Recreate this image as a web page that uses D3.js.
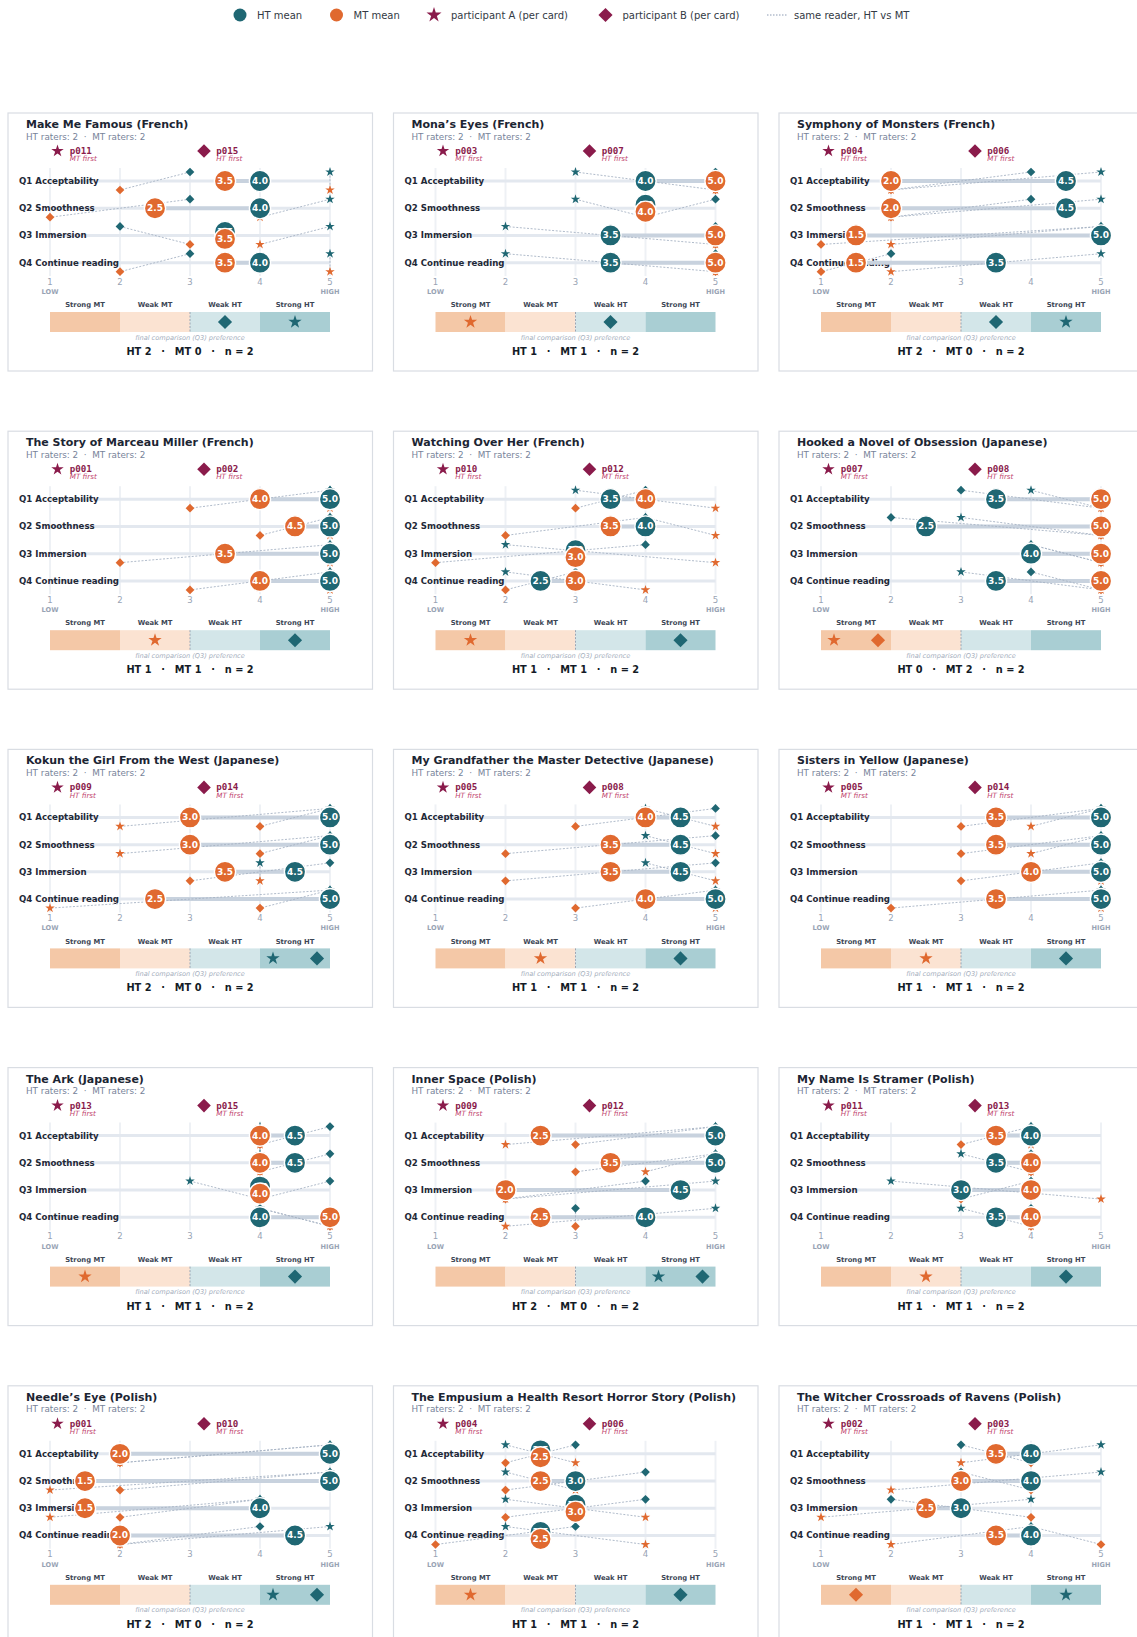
<!DOCTYPE html>
<html>
<head>
<meta charset="utf-8">
<script src="https://cdn.jsdelivr.net/npm/d3@7"></script>
<style>
  html, body { margin: 0; padding: 0; background: #ffffff; overflow: hidden; }
  svg { display: block; font-family: "DejaVu Sans", sans-serif; }
</style>
</head>
<body>
<svg id="chart"></svg>
<script>
// ---------------- data ----------------
const bookTitles = [
  "Make Me Famous", "Mona\u2019s Eyes", "Symphony of Monsters",
  "The Story of Marceau Miller", "Watching Over Her", "Hooked a Novel of Obsession",
  "Kokun the Girl From the West", "My Grandfather the Master Detective", "Sisters in Yellow",
  "The Ark", "Inner Space", "My Name Is Stramer",
  "Needle\u2019s Eye", "The Empusium a Health Resort Horror Story", "The Witcher Crossroads of Ravens"
];
const languages = [
  "French", "French", "French",
  "French", "French", "Japanese",
  "Japanese", "Japanese", "Japanese",
  "Japanese", "Polish", "Polish",
  "Polish", "Polish", "Polish"
];
const htRaters = [2, 2, 2, 2, 2, 2, 2, 2, 2, 2, 2, 2, 2, 2, 2];
const mtRaters = [2, 2, 2, 2, 2, 2, 2, 2, 2, 2, 2, 2, 2, 2, 2];

const participantA = ["p011", "p003", "p004", "p001", "p010", "p007", "p009", "p005", "p005", "p013", "p009", "p011", "p001", "p004", "p002"];
const orderA = ["MT first", "MT first", "HT first", "MT first", "HT first", "MT first", "HT first", "HT first", "MT first", "HT first", "MT first", "HT first", "HT first", "MT first", "MT first"];
const participantB = ["p015", "p007", "p006", "p002", "p012", "p008", "p014", "p008", "p014", "p015", "p012", "p013", "p010", "p006", "p003"];
const orderB = ["HT first", "HT first", "MT first", "HT first", "MT first", "HT first", "MT first", "MT first", "HT first", "MT first", "HT first", "MT first", "MT first", "HT first", "HT first"];

const questions = ["Q1 Acceptability", "Q2 Smoothness", "Q3 Immersion", "Q4 Continue reading"];
const scaleTicks = [1, 2, 3, 4, 5];

// ratings per card, one value per question (Q1..Q4)
const scoresA_HT = [
  [5, 5, 5, 5], [3, 3, 2, 2], [5, 5, 5, 5], [5, 5, 5, 5], [3, 4, 2, 2],
  [4, 3, 4, 3], [5, 5, 4, 5], [4, 4, 4, 5], [5, 5, 5, 5], [4, 4, 3, 4],
  [5, 5, 5, 5], [4, 3, 2, 3], [5, 5, 4, 5], [2, 2, 2, 2], [5, 5, 4, 4]
];
const scoresA_MT = [
  [5, 4, 4, 5], [5, 4, 5, 5], [2, 2, 2, 2], [5, 5, 5, 5], [5, 5, 5, 4],
  [5, 5, 5, 5], [2, 2, 4, 1], [5, 5, 5, 5], [4, 4, 5, 5], [4, 4, 4, 5],
  [2, 4, 2, 2], [4, 4, 5, 4], [2, 1, 1, 2], [3, 3, 4, 4], [3, 2, 1, 2]
];
const scoresB_HT = [
  [3, 3, 2, 3], [5, 5, 5, 5], [4, 4, 5, 2], [5, 5, 5, 5], [4, 4, 4, 3],
  [3, 2, 4, 4], [5, 5, 5, 5], [5, 5, 5, 5], [5, 5, 5, 5], [5, 5, 5, 4],
  [5, 5, 4, 3], [4, 4, 4, 4], [5, 5, 4, 4], [3, 4, 4, 3], [3, 3, 2, 4]
];
const scoresB_MT = [
  [2, 1, 3, 2], [5, 4, 5, 5], [2, 2, 1, 1], [3, 4, 2, 3], [3, 2, 1, 2],
  [5, 5, 5, 5], [4, 4, 3, 4], [3, 2, 2, 3], [3, 3, 3, 2], [4, 4, 4, 5],
  [3, 3, 2, 3], [3, 4, 3, 4], [2, 2, 2, 2], [2, 2, 2, 1], [4, 4, 4, 5]
];

const prefCategories = ["Strong MT", "Weak MT", "Weak HT", "Strong HT"];
const prefA = ["Strong HT", "Strong MT", "Strong HT", "Weak MT", "Strong MT", "Strong MT", "Strong HT", "Weak MT", "Weak MT", "Strong MT", "Strong HT", "Weak MT", "Strong HT", "Strong MT", "Strong HT"];
const prefB = ["Weak HT", "Weak HT", "Weak HT", "Strong HT", "Strong HT", "Strong MT", "Strong HT", "Strong HT", "Strong HT", "Strong HT", "Strong HT", "Strong HT", "Strong HT", "Strong HT", "Strong MT"];

const legendLabels = ["HT mean", "MT mean", "participant A (per card)", "participant B (per card)", "same reader, HT vs MT"];

// ---------------- styling ----------------
const W = 1137, H = 1637;
const colHT = "#1f6773";
const colMT = "#e0692f";
const colPart = "#8a1b4b";
const colPartSub = "#c2466f";
const prefFill = {"Strong MT": "#f4c8a7", "Weak MT": "#fbe3d2", "Weak HT": "#d3e6e9", "Strong HT": "#a9ced3"};

const starPath = s => d3.symbol(d3.symbolStar, s)();
const diamondPath = s => d3.symbol(d3.symbolSquare, s)();

const svg = d3.select("#chart").attr("width", W).attr("height", H);

function drawMarker(g, kind, x, y, size, fill) {
  const p = g.append("path")
    .attr("d", kind === "star" ? starPath(size) : diamondPath(size))
    .attr("fill", fill);
  if (kind === "star") p.attr("transform", `translate(${x},${y})`);
  else p.attr("transform", `translate(${x},${y}) rotate(45)`);
  return p;
}

// ---------------- legend ----------------
const legendX = [240, 336.5, 434, 605.5, 767];
const lg = svg.append("g").attr("transform", "translate(0,15)");
legendLabels.forEach((lab, i) => {
  const x = legendX[i];
  let tx;
  if (i === 0 || i === 1) {
    lg.append("circle").attr("cx", x).attr("cy", 0).attr("r", 6.5).attr("fill", i === 0 ? colHT : colMT);
    tx = x + 17;
  } else if (i === 2) {
    drawMarker(lg, "star", x, 0, 70, colPart);
    tx = x + 17;
  } else if (i === 3) {
    drawMarker(lg, "diamond", x, 0, 100, colPart);
    tx = x + 17;
  } else {
    lg.append("line").attr("x1", x).attr("x2", x + 21).attr("y1", 0).attr("y2", 0)
      .attr("stroke", "#8c9bb3").attr("stroke-width", 1).attr("stroke-dasharray", "1.5,1.5");
    tx = x + 27;
  }
  lg.append("text").attr("x", tx).attr("y", 0).attr("dominant-baseline", "central")
    .attr("font-size", 10).attr("fill", "#333a44").text(lab);
});

// ---------------- cards ----------------
const cardW = 364.5, cardH = 258;
const x = d3.scaleLinear().domain([1, 5]).range([42, 322]);
const rowY = d3.scalePoint().domain(questions).range([68, 149.7]);
const mean = (a, b) => (a + b) / 2;

bookTitles.forEach((title, i) => {
  const col = i % 3, row = Math.floor(i / 3);
  const g = svg.append("g").attr("transform", `translate(${8 + col * 385.5},${113 + row * 318.2})`);

  g.append("rect").attr("width", cardW).attr("height", cardH)
    .attr("fill", "#ffffff").attr("stroke", "#d9dde3").attr("stroke-width", 1.2);

  g.append("text").attr("x", 18).attr("y", 15).attr("font-size", 11).attr("font-weight", "bold")
    .attr("fill", "#1c2533").text(`${title} (${languages[i]})`);
  g.append("text").attr("x", 18).attr("y", 26.5).attr("font-size", 8.8)
    .attr("fill", "#77839a").text(`HT raters: ${htRaters[i]}  \u00b7  MT raters: ${mtRaters[i]}`)
    .attr("xml:space", "preserve").style("white-space", "pre");

  // participant headers
  const heads = [
    {kind: "star", id: participantA[i], order: orderA[i], x: 49.5, size: 48},
    {kind: "diamond", id: participantB[i], order: orderB[i], x: 196, size: 92}
  ];
  heads.forEach(h => {
    drawMarker(g, h.kind, h.x, 38, h.size, colPart);
    g.append("text").attr("x", h.x + 12.2).attr("y", 41)
      .attr("font-family", "'DejaVu Sans Mono', monospace").attr("font-weight", "bold")
      .attr("font-size", 9.2).attr("fill", colPart).text(h.id);
    g.append("text").attr("x", h.x + 12.2).attr("y", 48.3).attr("font-style", "italic")
      .attr("font-size", 7.2).attr("fill", colPartSub).text(h.order);
  });

  // grid
  g.append("g").selectAll("line").data(scaleTicks).join("line")
    .attr("x1", d => x(d)).attr("x2", d => x(d)).attr("y1", 55).attr("y2", 163)
    .attr("stroke", "#eef1f5").attr("stroke-width", 2);
  g.append("g").selectAll("line").data(questions).join("line")
    .attr("x1", x(1)).attr("x2", x(5)).attr("y1", d => rowY(d)).attr("y2", d => rowY(d))
    .attr("stroke", "#e3e8ef").attr("stroke-width", 3);

  g.append("g").selectAll("text").data(questions).join("text")
    .attr("x", 11).attr("y", d => rowY(d)).attr("dominant-baseline", "central")
    .attr("font-size", 8.6).attr("font-weight", "bold").attr("fill", "#1f2937").text(d => d);

  const rows = questions.map((q, k) => ({
    q, y: rowY(q),
    aHT: scoresA_HT[i][k], aMT: scoresA_MT[i][k],
    bHT: scoresB_HT[i][k], bMT: scoresB_MT[i][k],
    ht: mean(scoresA_HT[i][k], scoresB_HT[i][k]),
    mt: mean(scoresA_MT[i][k], scoresB_MT[i][k])
  }));

  // link between means
  g.append("g").selectAll("line").data(rows).join("line")
    .attr("x1", d => x(d.ht)).attr("x2", d => x(d.mt)).attr("y1", d => d.y).attr("y2", d => d.y)
    .attr("stroke", "#c8d2de").attr("stroke-width", 4);

  // same-reader connectors
  const off = 9;
  rows.forEach(d => {
    [[d.aHT, d.aMT], [d.bHT, d.bMT]].forEach(([h, m]) => {
      g.append("line").attr("x1", x(h)).attr("y1", d.y - off).attr("x2", x(m)).attr("y2", d.y + off)
        .attr("stroke", "#a7b3c4").attr("stroke-width", 0.9).attr("stroke-dasharray", "2,1.6");
    });
  });
  rows.forEach(d => {
    drawMarker(g, "diamond", x(d.bMT), d.y + off, 38, colMT);
    drawMarker(g, "star", x(d.aMT), d.y + off, 28, colMT);
    drawMarker(g, "diamond", x(d.bHT), d.y - off, 38, colHT);
    drawMarker(g, "star", x(d.aHT), d.y - off, 28, colHT);
  });

  // mean circles
  rows.forEach(d => {
    const tie = d.ht === d.mt ? 3.5 : 0;
    [[d.ht, colHT, -tie], [d.mt, colMT, tie]].forEach(([v, c, dy]) => {
      g.append("circle").attr("cx", x(v)).attr("cy", d.y + dy).attr("r", 10.6)
        .attr("fill", c).attr("stroke", "#ffffff").attr("stroke-width", 1.4);
      g.append("text").attr("x", x(v)).attr("y", d.y + dy).attr("text-anchor", "middle")
        .attr("dominant-baseline", "central").attr("font-size", 9).attr("font-weight", "bold")
        .attr("fill", "#ffffff").text(d3.format(".1f")(v));
    });
  });

  // axis ticks
  g.append("g").selectAll("text").data(scaleTicks).join("text")
    .attr("x", d => x(d)).attr("y", 171.5).attr("text-anchor", "middle")
    .attr("font-size", 8.5).attr("fill", "#98a3b4").text(d => d);
  g.append("text").attr("x", x(1)).attr("y", 181).attr("text-anchor", "middle")
    .attr("font-size", 6.6).attr("font-weight", "bold").attr("fill", "#98a3b4").text("LOW");
  g.append("text").attr("x", x(5)).attr("y", 181).attr("text-anchor", "middle")
    .attr("font-size", 6.6).attr("font-weight", "bold").attr("fill", "#98a3b4").text("HIGH");

  // preference strip
  const seg = prefCategories.map((c, k) => ({c, x0: x(k + 1), x1: x(k + 2)}));
  g.append("g").selectAll("rect").data(seg).join("rect")
    .attr("x", d => d.x0).attr("y", 199).attr("width", d => d.x1 - d.x0).attr("height", 20)
    .attr("fill", d => prefFill[d.c]);
  g.append("g").selectAll("text").data(seg).join("text")
    .attr("x", d => (d.x0 + d.x1) / 2).attr("y", 194.3).attr("text-anchor", "middle")
    .attr("font-size", 6.8).attr("font-weight", "bold").attr("fill", "#3d4756").text(d => d.c);
  g.append("line").attr("x1", x(3)).attr("x2", x(3)).attr("y1", 199).attr("y2", 219)
    .attr("stroke", "#9aa5b4").attr("stroke-width", 1).attr("stroke-dasharray", "2,1.5");

  const picks = [{kind: "star", p: prefA[i], size: 55}, {kind: "diamond", p: prefB[i], size: 100}];
  picks.forEach((pk, k) => {
    const s = seg.find(e => e.c === pk.p);
    const shared = picks.filter(o => o.p === pk.p).length > 1;
    const cx = (s.x0 + s.x1) / 2 + (shared ? (k === 0 ? -22 : 22) : 0);
    drawMarker(g, pk.kind, cx, 209, pk.size, pk.p.endsWith("HT") ? colHT : colMT);
  });

  g.append("text").attr("x", x(3)).attr("y", 226.5).attr("text-anchor", "middle")
    .attr("font-size", 6.6).attr("font-style", "italic").attr("fill", "#a4aebc")
    .text("final comparison (Q3) preference");

  const nHT = [prefA[i], prefB[i]].filter(p => p.endsWith("HT")).length;
  const nMT = [prefA[i], prefB[i]].filter(p => p.endsWith("MT")).length;
  g.append("text").attr("x", x(3)).attr("y", 242).attr("text-anchor", "middle")
    .attr("font-size", 9.8).attr("font-weight", "bold").attr("fill", "#141b26")
    .text(`HT ${nHT}\u2003\u00b7\u2003MT ${nMT}\u2003\u00b7\u2003n = ${nHT + nMT}`);
});
</script>
</body>
</html>
